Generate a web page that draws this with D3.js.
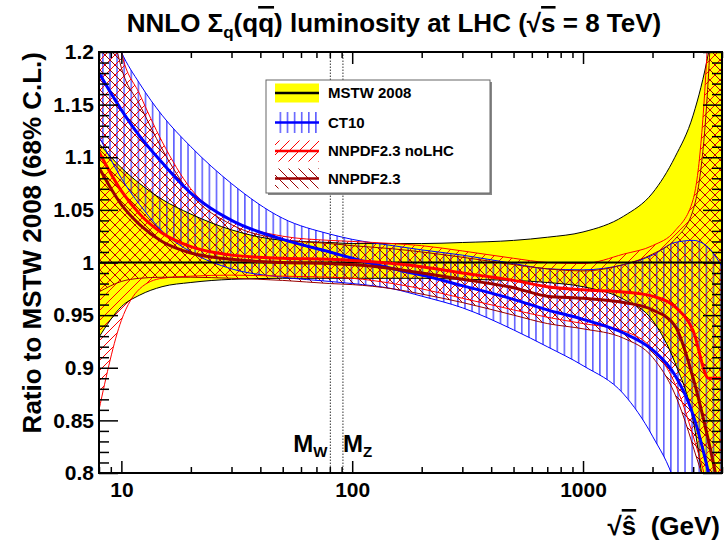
<!DOCTYPE html>
<html>
<head>
<meta charset="utf-8">
<script src="https://cdn.jsdelivr.net/npm/d3@7"></script>
<style>
  body { margin: 0; background: #fff; }
  text { font-family: "Liberation Sans", Arial, Helvetica, sans-serif; font-weight: bold; }
</style>
</head>
<body>
<svg width="725" height="546"></svg>
<script>
// sqrt(s-hat) grid in GeV
const sqrtS = [8, 10, 12, 15, 20, 30, 50, 80, 100, 150, 200, 300, 500, 700, 1000, 1500, 2000, 2500, 3000, 3500, 4000];

// MSTW 2008 (reference, yellow band)
const mstwMid = [1, 1, 1, 1, 1, 1, 1, 1, 1, 1, 1, 1, 1, 1, 1, 1, 1, 1, 1, 1, 1];
const mstwUp  = [1.113, 1.09, 1.075, 1.06, 1.046, 1.031, 1.021, 1.019, 1.018, 1.018, 1.018, 1.019, 1.021, 1.024, 1.029, 1.044, 1.066, 1.1, 1.14, 1.2, 1.28];
const mstwLo  = [0.929, 0.958, 0.969, 0.977, 0.981, 0.984, 0.985, 0.985, 0.985, 0.985, 0.985, 0.984, 0.983, 0.981, 0.977, 0.965, 0.945, 0.905, 0.85, 0.75, 0.65];

// CT10 (blue, vertical hatch)
const ct10Mid = [1.18, 1.145, 1.12, 1.095, 1.066, 1.04, 1.022, 1.01, 1.004, 0.994, 0.988, 0.978, 0.965, 0.955, 0.946, 0.933, 0.917, 0.893, 0.855, 0.80, 0.74];
const ct10Up  = [1.26, 1.2, 1.17, 1.14, 1.11, 1.075, 1.042, 1.027, 1.022, 1.016, 1.012, 1.007, 0.999, 0.994, 0.993, 0.998, 1.007, 1.019, 1.021, 1.014, 0.996];
const ct10Lo  = [1.12, 1.08, 1.055, 1.03, 1.01, 0.994, 0.986, 0.982, 0.98, 0.975, 0.968, 0.957, 0.936, 0.92, 0.902, 0.875, 0.835, 0.79, 0.72, 0.62, 0.5];

// NNPDF2.3 noLHC (red, "/" hatch)
const noLhcMid = [1.105, 1.068, 1.046, 1.028, 1.015, 1.007, 1.004, 1.003, 1.002, 0.999, 0.996, 0.99, 0.983, 0.977, 0.974, 0.972, 0.968, 0.958, 0.935, 0.89, 0.89];
const noLhcUp  = [1.35, 1.2, 1.16, 1.115, 1.07, 1.04, 1.025, 1.021, 1.02, 1.018, 1.016, 1.011, 1.004, 1.0, 0.999, 1.008, 1.016, 1.03, 1.06, 1.23, 1.6];
const noLhcLo  = [0.86, 0.945, 0.975, 0.985, 0.987, 0.988, 0.987, 0.986, 0.985, 0.98, 0.975, 0.966, 0.955, 0.948, 0.942, 0.935, 0.918, 0.885, 0.835, 0.78, 0.7];

// NNPDF2.3 (dark red, "\" hatch)
const nnpdfMid = [1.09, 1.055, 1.036, 1.02, 1.009, 1.003, 1.0, 0.999, 0.998, 0.994, 0.99, 0.984, 0.976, 0.968, 0.966, 0.962, 0.955, 0.94, 0.89, 0.83, 0.77];
const nnpdfUp  = [1.3, 1.185, 1.15, 1.108, 1.065, 1.036, 1.022, 1.018, 1.016, 1.013, 1.01, 1.005, 0.998, 0.994, 0.992, 0.998, 1.008, 1.022, 1.05, 1.18, 1.5];
const nnpdfLo  = [0.972, 0.982, 0.985, 0.986, 0.986, 0.985, 0.983, 0.98, 0.979, 0.975, 0.97, 0.962, 0.95, 0.942, 0.937, 0.928, 0.91, 0.875, 0.825, 0.77, 0.68];

const xMajor = [10, 100, 1000];
const yMajor = [0.8, 0.85, 0.9, 0.95, 1, 1.05, 1.1, 1.15, 1.2];
const massValues = [80.4, 91.19];
const massLabels = ["W", "Z"];
const legendLabels = ["MSTW 2008", "CT10", "NNPDF2.3 noLHC", "NNPDF2.3"];

const svg = d3.select("svg");
const m = { left: 99, right: 722, top: 52, bottom: 473 };

const x = d3.scaleLog().domain([8, 4000]).range([m.left, m.right]);
const y = d3.scaleLinear().domain([0.8, 1.2]).range([m.bottom, m.top]);

const defs = svg.append("defs");
defs.append("clipPath").attr("id", "plotClip")
  .append("rect")
  .attr("x", m.left).attr("y", m.top)
  .attr("width", m.right - m.left).attr("height", m.bottom - m.top);

// hatch patterns (ROOT-like 3006 / 3004 / 3005)
function hatch(id, color, kind) {
  if (kind === "v") {
    const p = defs.append("pattern").attr("id", id)
      .attr("patternUnits", "userSpaceOnUse").attr("width", 7.1).attr("height", 10);
    p.append("line").attr("x1", 3.5).attr("x2", 3.5).attr("y1", 0).attr("y2", 10)
      .attr("stroke", color).attr("stroke-width", 1);
    return;
  }
  const s = 10;
  const p = defs.append("pattern").attr("id", id)
    .attr("patternUnits", "userSpaceOnUse").attr("width", s).attr("height", s);
  const d = kind === "/"
    ? `M0,${s} L${s},0 M${-s / 2},${s / 2} L${s / 2},${-s / 2} M${s / 2},${s * 1.5} L${s * 1.5},${s / 2}`
    : `M0,0 L${s},${s} M${-s / 2},${s / 2} L${s / 2},${s * 1.5} M${s / 2},${-s / 2} L${s * 1.5},${s / 2}`;
  p.append("path").attr("d", d).attr("stroke", color).attr("stroke-width", 1).attr("fill", "none");
}
hatch("hatchCT10", "#0000ff", "v");
hatch("hatchNoLHC", "#ff0000", "/");
hatch("hatchNNPDF", "#990000", "\\");

const band = (lo, up) => sqrtS.map((s, i) => ({ s, lo: lo[i], up: up[i] }));
const series = (v) => sqrtS.map((s, i) => ({ s, v: v[i] }));

const area = d3.area().x(d => x(d.s)).y0(d => y(d.lo)).y1(d => y(d.up)).curve(d3.curveMonotoneX);
const lineLo = d3.line().x(d => x(d.s)).y(d => y(d.lo)).curve(d3.curveMonotoneX);
const lineUp = d3.line().x(d => x(d.s)).y(d => y(d.up)).curve(d3.curveMonotoneX);
const line = d3.line().x(d => x(d.s)).y(d => y(d.v)).curve(d3.curveMonotoneX);

const plot = svg.append("g").attr("clip-path", "url(#plotClip)");

const mstw = band(mstwLo, mstwUp);
const ct10 = band(ct10Lo, ct10Up);
const noLhc = band(noLhcLo, noLhcUp);
const nnpdf = band(nnpdfLo, nnpdfUp);

plot.append("path").datum(mstw).attr("d", area).attr("fill", "#ffff00");
plot.append("path").datum(ct10).attr("d", area).attr("fill", "url(#hatchCT10)");
plot.append("path").datum(noLhc).attr("d", area).attr("fill", "url(#hatchNoLHC)");
plot.append("path").datum(nnpdf).attr("d", area).attr("fill", "url(#hatchNNPDF)");

const edges = [[mstw, "#000"], [ct10, "#0000ff"], [noLhc, "#ff0000"], [nnpdf, "#990000"]];
edges.forEach(([b, c]) => {
  plot.append("path").datum(b).attr("d", lineLo).attr("fill", "none").attr("stroke", c).attr("stroke-width", 1);
  plot.append("path").datum(b).attr("d", lineUp).attr("fill", "none").attr("stroke", c).attr("stroke-width", 1);
});

// W / Z mass markers
plot.selectAll(".mass").data(massValues).enter().append("line")
  .attr("x1", d => x(d)).attr("x2", d => x(d))
  .attr("y1", m.bottom).attr("y2", m.top)
  .attr("stroke", "#333").attr("stroke-width", 1).attr("stroke-dasharray", "1.5,1.5");

const centrals = [[mstwMid, "#000", 2], [ct10Mid, "#0000ff", 3], [noLhcMid, "#ff0000", 3], [nnpdfMid, "#990000", 3]];
centrals.forEach(([v, c, w]) => {
  plot.append("path").datum(series(v)).attr("d", line).attr("fill", "none").attr("stroke", c).attr("stroke-width", w);
});

// axes
const xMinor = [];
[1, 10, 100, 1000].forEach(dec => d3.range(1, 10).forEach(k => {
  const v = dec * k;
  if (v >= 8 && v <= 4000 && !xMajor.includes(v)) xMinor.push(v);
}));
const yMinor = d3.range(80, 121).map(k => k / 100).filter(v => !yMajor.some(t => Math.abs(t - v) < 1e-6));
const yFmt = d => String(Math.round(d * 100) / 100);

function axisG(gen, tr, vals, size, fmt, pad) {
  const g = svg.append("g").attr("transform", tr)
    .call(gen.tickValues(vals).tickSize(-size).tickPadding(pad || 3).tickFormat(fmt || (() => "")));
  g.select(".domain").remove();
  g.selectAll("line").attr("stroke", "#000").attr("stroke-width", 1.5);
  g.attr("font-family", null).attr("font-size", null);
  g.selectAll("text").attr("fill", "#000").style("font-size", "21px");
  return g;
}
axisG(d3.axisBottom(x), `translate(0,${m.bottom})`, xMinor, 6);
axisG(d3.axisBottom(x), `translate(0,${m.bottom})`, xMajor, 12, d => String(d), 9);
axisG(d3.axisTop(x), `translate(0,${m.top})`, xMinor, 6);
axisG(d3.axisTop(x), `translate(0,${m.top})`, xMajor, 12);
axisG(d3.axisLeft(y), `translate(${m.left},0)`, yMinor, 10);
axisG(d3.axisLeft(y), `translate(${m.left},0)`, yMajor, 19, yFmt, 5);
axisG(d3.axisRight(y), `translate(${m.right},0)`, yMinor, 10);
axisG(d3.axisRight(y), `translate(${m.right},0)`, yMajor, 19);

svg.append("rect")
  .attr("x", m.left).attr("y", m.top)
  .attr("width", m.right - m.left).attr("height", m.bottom - m.top)
  .attr("fill", "none").attr("stroke", "#000").attr("stroke-width", 2);

// M_W, M_Z labels
const massText = svg.selectAll(".mlab").data(massValues).enter().append("text")
  .attr("x", (d, i) => x(d) - (i === 0 ? 37 : 0))
  .attr("y", 452).style("font-size", "24px");
massText.append("tspan").text("M");
massText.append("tspan").attr("dy", 5).style("font-size", "15px").text((d, i) => massLabels[i]);

// title
const title = svg.append("text").attr("x", 394).attr("y", 32)
  .attr("text-anchor", "middle").style("font-size", "26px");
title.append("tspan").text("NNLO \u03A3");
title.append("tspan").attr("dy", 6).style("font-size", "17px").text("q");
title.append("tspan").attr("dy", -6).text("(q");
title.append("tspan").style("text-decoration", "overline").text("q");
title.append("tspan").text(") luminosity at LHC (\u221A");
title.append("tspan").style("text-decoration", "overline").text("s");
title.append("tspan").text(" = 8 TeV)");

// axis titles
svg.append("text")
  .attr("transform", `translate(41,${m.top}) rotate(-90)`)
  .attr("text-anchor", "end").style("font-size", "26px")
  .text("Ratio to MSTW 2008 (68% C.L.)");

const xt = svg.append("text").attr("x", 720).attr("y", 535)
  .attr("text-anchor", "end").style("font-size", "26px");
xt.append("tspan").text("\u221A");
xt.append("tspan").style("text-decoration", "overline").text("\u015D");
xt.append("tspan").text("\u00A0\u00A0(GeV)");

// legend
const lg = svg.append("g");
lg.append("rect").attr("x", 268).attr("y", 82).attr("width", 224).attr("height", 113).attr("fill", "#888");
lg.append("rect").attr("x", 266).attr("y", 80).attr("width", 224).attr("height", 113)
  .attr("fill", "#fff").attr("stroke", "#666").attr("stroke-width", 1);
const rowY = [93, 122.5, 151, 178.5];
const swFill = ["#ffff00", "url(#hatchCT10)", "url(#hatchNoLHC)", "url(#hatchNNPDF)"];
const swLine = ["#000", "#0000ff", "#ff0000", "#990000"];
const swH = [19, 21, 21, 20];
legendLabels.forEach((lab, i) => {
  lg.append("rect").attr("x", 275).attr("y", rowY[i] - swH[i] / 2)
    .attr("width", 44).attr("height", swH[i]).attr("fill", swFill[i]);
  lg.append("line").attr("x1", 275).attr("x2", 319).attr("y1", rowY[i]).attr("y2", rowY[i])
    .attr("stroke", swLine[i]).attr("stroke-width", 2.5);
  lg.append("text").attr("x", 328).attr("y", rowY[i]).attr("dy", "0.36em")
    .style("font-size", "15px").text(lab);
});
</script>
</body>
</html>
